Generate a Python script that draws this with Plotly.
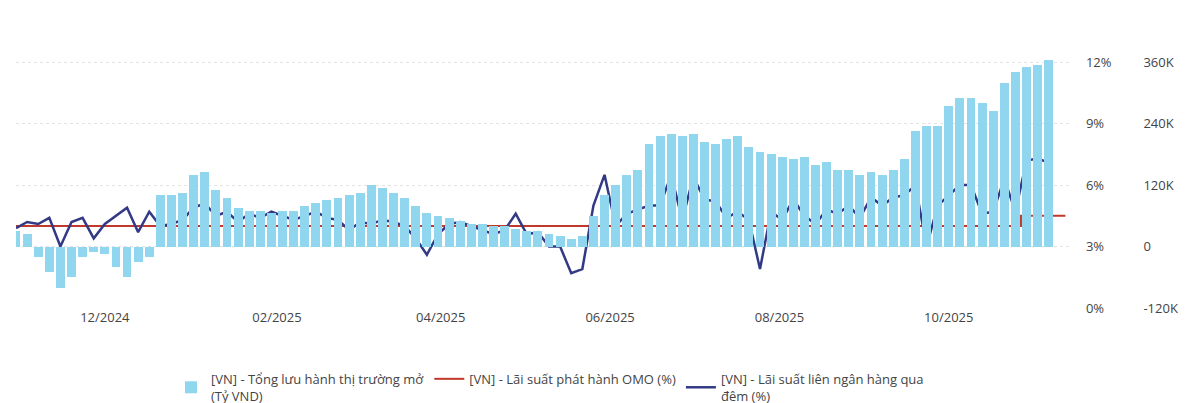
import plotly.graph_objects as go
import pandas as pd

start = "2024-10-30"
bars_k = [30,25,-20,-50,-80,-60,-20,-10,-15,-40,-60,-30,-20,100,100,105,140,145,110,95,
          75,70,70,65,70,70,80,85,90,95,100,105,120,115,105,95,80,65,60,55,
          50,45,45,40,40,35,30,30,25,20,15,20,60,100,120,140,150,200,215,220,
          215,220,205,200,210,215,195,185,180,175,170,175,160,165,150,150,140,145,140,150,
          170,225,235,235,275,290,290,280,265,320,340,350,355,365]
interbank = [3.9,4.2,4.1,4.4,3.0,4.2,4.4,3.4,4.1,4.5,4.9,3.7,4.7,4.0,4.1,4.3,4.9,5.1,4.5,4.7,
             4.2,4.6,4.4,4.7,4.5,4.3,4.5,4.7,4.4,4.3,3.8,4.2,4.1,4.3,4.2,4.0,3.4,2.6,3.6,4.1,
             4.2,4.0,3.8,3.6,3.8,4.6,3.6,3.7,3.0,3.0,1.7,1.9,5.0,6.5,4.0,4.6,4.8,5.0,5.0,6.5,
             4.3,6.4,5.3,5.2,4.4,4.7,4.3,1.9,4.7,4.3,5.3,4.5,4.1,4.8,4.6,5.0,4.4,5.4,5.0,5.4,
             5.5,6.0,3.0,5.0,5.5,6.0,6.0,4.6,4.7,6.3,4.7,7.2,7.3,7.1]
omo_dates = ["2024-10-30", "2025-10-27", "2025-11-12"]
omo_rate = [4.0, 4.5, 4.5]
tick_dates = ["2024-12-01", "2025-02-01", "2025-04-01", "2025-06-01", "2025-08-01", "2025-10-01"]
tick_labels = ["12/2024", "02/2025", "04/2025", "06/2025", "08/2025", "10/2025"]

dates = pd.date_range(start, periods=len(bars_k), freq="4D")

fig = go.Figure()
fig.add_trace(go.Bar(x=dates, y=bars_k, yaxis="y2", marker_color="#8fd6ee",
                     marker_line_width=0, width=3.2*86400000,
                     name="[VN] - Tổng lưu hành thị trường mở<br>(Tỷ VND)"))
fig.add_trace(go.Scatter(x=omo_dates, y=omo_rate, mode="lines", line_shape="hv",
                         line=dict(color="#c0392b", width=2),
                         name="[VN] - Lãi suất phát hành OMO (%)"))
fig.add_trace(go.Scatter(x=dates, y=interbank, mode="lines",
                         line=dict(color="#333a85", width=2.5),
                         name="[VN] - Lãi suất liên ngân hàng qua<br>đêm (%)"))

fig.update_layout(
    width=1200, height=403, plot_bgcolor="white", paper_bgcolor="white",
    margin=dict(l=8, r=0, t=46, b=90),
    font=dict(family="Open Sans", size=13, color="#444"),
    bargap=0,
    xaxis=dict(domain=[0, 0.885], range=["2024-10-30", "2025-11-14"],
               tickvals=tick_dates, ticktext=tick_labels, showgrid=False,
               showline=False, ticks=""),
    yaxis=dict(side="right", range=[0, 12.4], tickvals=[0, 3, 6, 9, 12],
               ticktext=["0%", "3%", "6%", "9%", "12%"], showgrid=True,
               gridcolor="#e3e3e3", griddash="dot", zeroline=False, ticks="", ticklabelstandoff=14),
    yaxis2=dict(side="right", overlaying="y", anchor="free", position=0.945,
                range=[-120, 376], tickvals=[-120, 0, 120, 240, 360],
                ticktext=["-120K", "0", "120K", "240K", "360K"], showgrid=False,
                zeroline=False, ticks=""),
    legend=dict(orientation="h", x=0.13, y=-0.22, xanchor="left", yanchor="top",
                font=dict(size=13, color="#444")),
    annotations=[dict(text="<b>Biểu đồ 3: Công cụ cung cấp thanh khoản ngắn hạn</b>",
                      xref="paper", yref="paper", x=0.0, y=1.17, xanchor="left",
                      yanchor="bottom", showarrow=False,
                      font=dict(family="Lato", size=23, color="#c49a22"))],
)
fig.write_html("out.html")
